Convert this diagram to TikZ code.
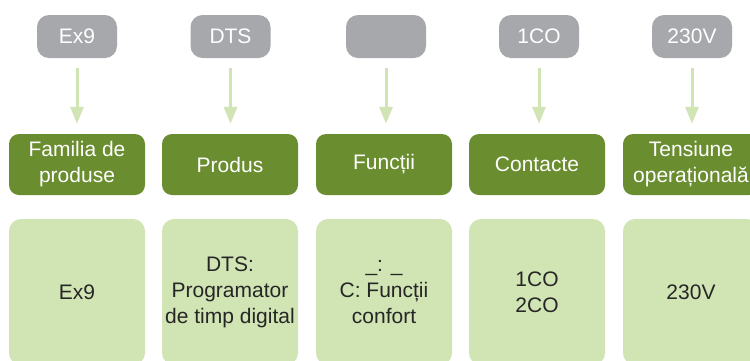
\documentclass[tikz,border=0pt]{standalone}
\usepackage{fontspec}
\setmainfont{Liberation Sans}
\usetikzlibrary{arrows.meta}
\definecolor{greybox}{HTML}{A7A8AC}
\definecolor{greenbox}{HTML}{6A8D2F}
\definecolor{lightbox}{HTML}{D1E4B4}
\definecolor{arrowcol}{HTML}{D1E4B4}
\definecolor{darktext}{HTML}{262626}
\tikzset{
  base/.style={inner sep=0pt, align=center, font=\fontsize{21}{26}\selectfont},
  greyb/.style={base, fill=greybox, text=white, rounded corners=12pt, minimum width=80pt, minimum height=43pt},
  greenb/.style={base, fill=greenbox, text=white, rounded corners=10pt, minimum width=136pt, minimum height=61pt},
  lightb/.style={base, fill=lightbox, text=darktext, rounded corners=12pt, minimum width=136pt, minimum height=146pt},
  conn/.style={arrowcol, line width=3pt, -{Triangle[width=13pt,length=17pt]}, shorten <=10pt, shorten >=10pt}
}
\begin{document}
\begin{tikzpicture}[x=1pt,y=-1pt]
\useasboundingbox (0,0) rectangle (750,360);
\begin{scope}
\clip (0,0) rectangle (750,360);
% grey boxes
\node[greyb] (g1) at (77,36.5) {Ex9};
\node[greyb] (g2) at (230.5,36.5) {DTS};
\node[greyb] (g3) at (386,36.5) {};
\node[greyb] (g4) at (539,36.5) {1CO};
\node[greyb] (g5) at (692,36.5) {230V};
% green boxes
\node[greenb] (h1) at (77,164.5) {Familia de\\produse};
\node[greenb] (h2) at (230,164.5) {Produs};
\node[greenb] (h3) at (384,164.5) {Funcții};
\node[greenb] (h4) at (537,164.5) {Contacte};
\node[greenb] (h5) at (691,164.5) {Tensiune\\operațională};
% light boxes
\node[lightb] (l1) at (77,292) {Ex9};
\node[lightb] (l2) at (230,292) {DTS:\\Programator\\de timp digital};
\node[lightb] (l3) at (384,292) {\_: \_\\C: Funcții\\confort};
\node[lightb] (l4) at (537,292) {1CO\\2CO};
\node[lightb] (l5) at (691,292) {230V};
\end{scope}
% arrows
\draw[conn] (g1.south) -- (g1.south |- h1.north);
\draw[conn] (g2.south) -- (g2.south |- h2.north);
\draw[conn] (g3.south) -- (g3.south |- h3.north);
\draw[conn] (g4.south) -- (g4.south |- h4.north);
\draw[conn] (g5.south) -- (g5.south |- h5.north);
\end{tikzpicture}
\end{document}
